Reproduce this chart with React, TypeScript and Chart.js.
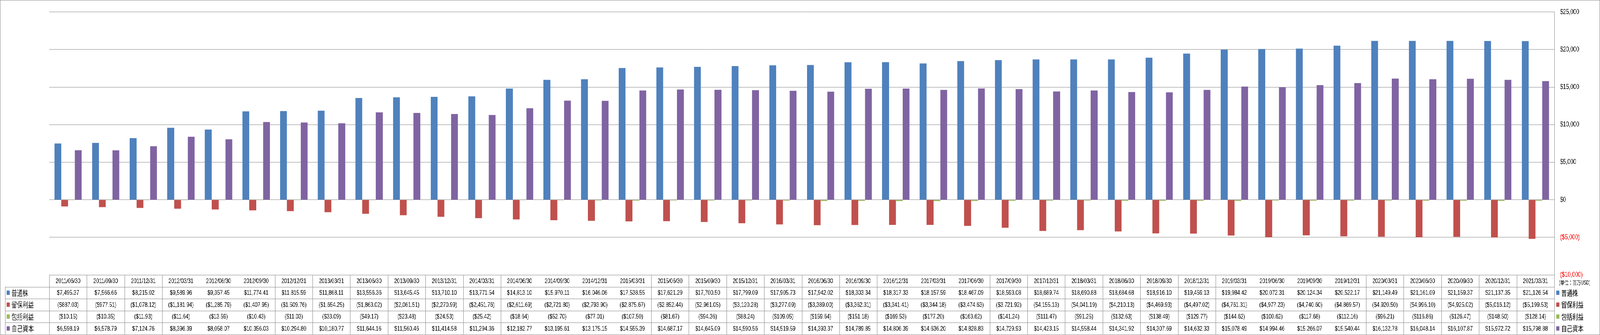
import React, { useEffect, useRef } from "react";
import { Chart, registerables } from "chart.js";

Chart.register(...registerables);

const categories = [
  "2011/06/30", "2011/09/30", "2011/12/31", "2012/03/31", "2012/06/30", "2012/09/30", "2012/12/31", "2013/03/31",
  "2013/06/30", "2013/09/30", "2013/12/31", "2014/03/31", "2014/06/30", "2014/09/30", "2014/12/31", "2015/03/31",
  "2015/06/30", "2015/09/30", "2015/12/31", "2016/03/31", "2016/06/30", "2016/09/30", "2016/12/31", "2017/03/31",
  "2017/06/30", "2017/09/30", "2017/12/31", "2018/03/31", "2018/06/30", "2018/09/30", "2018/12/31", "2019/03/31",
  "2019/06/30", "2019/09/30", "2019/12/31", "2020/03/31", "2020/06/30", "2020/09/30", "2020/12/31", "2021/03/31",
];

const commonStock = [
  7495.37, 7566.66, 8215.02, 9589.96, 9357.45, 11774.41, 11815.59, 11868.11, 13556.36, 13645.45,
  13710.1, 13771.54, 14813.1, 15970.11, 16046.06, 17538.55, 17621.29, 17700.5, 17799.09, 17905.73,
  17942.02, 18303.34, 18317.33, 18157.59, 18467.09, 18593.08, 18689.74, 18690.88, 18684.68, 18916.1,
  19459.13, 19984.42, 20072.31, 20124.34, 20522.17, 21149.49, 21161.09, 21159.37, 21137.35, 21126.54,
];

const retainedEarnings = [
  -887.03, -977.51, -1078.12, -1181.94, -1285.79, -1407.95, -1509.76, -1654.25, -1863.02, -2061.51,
  -2270.99, -2451.76, -2611.69, -2721.8, -2793.9, -2875.67, -2852.44, -2961.05, -3120.28, -3277.09,
  -3389.0, -3362.31, -3341.41, -3344.18, -3474.63, -3721.92, -4155.13, -4041.19, -4210.13, -4469.93,
  -4497.02, -4761.31, -4977.23, -4740.6, -4869.57, -4920.5, -4996.1, -4925.02, -5016.12, -5199.53,
];

const comprehensiveIncome = [
  -10.15, -10.35, -11.93, -11.64, -13.59, -10.43, -11.03, -33.09, -49.17, -23.48,
  -24.53, -25.42, -18.64, -52.7, -77.01, -107.5, -81.67, -94.36, -88.24, -109.05,
  -159.64, -151.18, -169.53, -177.2, -163.62, -141.24, -111.47, -91.25, -132.63, -138.49,
  -129.77, -144.62, -100.62, -117.68, -112.16, -96.21, -116.86, -126.47, -148.5, -128.14,
];

const equity = [
  6598.19, 6578.79, 7124.76, 8396.39, 8058.07, 10356.03, 10294.8, 10180.77, 11644.16, 11560.46,
  11414.58, 11294.36, 12182.77, 13195.61, 13175.15, 14555.39, 14687.17, 14645.09, 14590.56, 14519.59,
  14393.37, 14789.85, 14806.39, 14636.2, 14828.83, 14729.93, 14423.15, 14558.44, 14341.92, 14307.69,
  14632.33, 15078.49, 14994.46, 15266.07, 15540.44, 16132.78, 16048.14, 16107.87, 15972.72, 15798.88,
];

const seriesNames = ["普通株", "留保利益", "包括利益", "自己資本"];
const seriesColors = ["#4f81bd", "#c0504d", "#9bbb59", "#8064a2"];
const seriesValues = [commonStock, retainedEarnings, comprehensiveIncome, equity];

const yMin = -10000;
const yMax = 25000;
const yStep = 5000;
const unitLabel = "(単位：百万USD)";

const W = 5461;
const H = 858;
const LINE = "#868686";
const CJK = '"Noto Sans CJK JP", "Noto Sans", sans-serif';
const NUM = '"Liberation Sans", Arial, sans-serif';

function money(v: number, digits: number): string {
  const s = Math.abs(v).toLocaleString("en-US", {
    minimumFractionDigits: digits,
    maximumFractionDigits: digits,
  });
  return v < 0 ? `($${s})` : `$${s}`;
}

const tablePlugin = {
  id: "dataTable",
  afterDraw(chart: any) {
    const ctx: CanvasRenderingContext2D = chart.ctx;
    const area = chart.chartArea;
    const xs = chart.scales.x;
    const n = categories.length;
    const colW = (area.right - area.left) / n;
    const top = area.bottom;
    const rowH = 30.5;
    const legendLeft = 17;
    const bottom = top + rowH * 5;

    ctx.save();
    ctx.strokeStyle = LINE;
    ctx.lineWidth = 1;
    const line = (x0: number, y0: number, x1: number, y1: number) => {
      ctx.beginPath();
      ctx.moveTo(x0, y0);
      ctx.lineTo(x1, y1);
      ctx.stroke();
    };
    for (let r = 0; r <= 5; r++) {
      const y = Math.round(top + r * rowH) + 0.5;
      line(r === 0 ? area.left : legendLeft, y, area.right, y);
    }
    for (let c = 0; c <= n; c++) {
      const xx = Math.round(area.left + c * colW) + 0.5;
      line(xx, top, xx, bottom);
    }
    line(legendLeft + 0.5, top + rowH, legendLeft + 0.5, bottom);

    // outer chart border
    ctx.strokeRect(0.5, 0.5, W - 1, H - 1);

    ctx.textAlign = "center";
    ctx.textBaseline = "middle";
    ctx.fillStyle = "#000";
    ctx.font = `17px ${NUM}`;
    for (let i = 0; i < n; i++) {
      const cx = xs.getPixelForValue(i);
      ctx.fillText(categories[i], cx, top + rowH * 0.5 + 1);
      for (let s = 0; s < seriesValues.length; s++) {
        ctx.fillText(money(seriesValues[s][i], 2), cx, top + rowH * (s + 1.5) + 1);
      }
    }

    // row headers in table
    ctx.textAlign = "left";
    for (let s = 0; s < seriesNames.length; s++) {
      const cy = top + rowH * (s + 1.5);
      ctx.fillStyle = seriesColors[s];
      ctx.fillRect(22, cy - 5.5, 11, 11);
      ctx.fillStyle = "#000";
      ctx.font = `19px ${CJK}`;
      ctx.fillText(seriesNames[s], 39, cy + 1);
    }

    // right legend
    for (let s = 0; s < seriesNames.length; s++) {
      const cy = top + rowH * (s + 1.5);
      ctx.fillStyle = seriesColors[s];
      ctx.fillRect(area.right + 7, cy - 5.5, 11, 11);
      ctx.fillStyle = "#000";
      ctx.font = `19px ${CJK}`;
      ctx.fillText(seriesNames[s], area.right + 24, cy + 1);
    }

    ctx.font = `14px ${CJK}`;
    ctx.fillStyle = "#000";
    ctx.fillText(unitLabel, area.right + 16, top + 20);
    ctx.restore();
  },
};

export default function App() {
  const ref = useRef<HTMLCanvasElement | null>(null);
  const outer = useRef<HTMLDivElement | null>(null);
  const inner = useRef<HTMLDivElement | null>(null);

  useEffect(() => {
    document.documentElement.style.overflow = "hidden";
    document.body.style.margin = "0";
    document.body.style.overflow = "hidden";
    const canvas = ref.current;
    const o = outer.current;
    const b = inner.current;
    if (!canvas || !o || !b) return;
    const vw = window.innerWidth || W;
    const vh = window.innerHeight || H;
    const kx = vw / W;
    const ky = vh / H;
    const dpr = window.devicePixelRatio || 1;
    o.style.width = `${W * kx}px`;
    o.style.height = `${H * ky}px`;
    if (Math.abs(kx - 1) > 0.005 || Math.abs(ky - 1) > 0.005) {
      b.style.transform = `scale(${kx}, ${ky})`;
      b.style.transformOrigin = "0 0";
    }
    const chart = new Chart(canvas, {
      type: "bar",
      data: {
        labels: categories,
        datasets: seriesNames.map((name, i) => ({
          label: name,
          data: seriesValues[i],
          backgroundColor: seriesColors[i],
          borderWidth: 0,
          categoryPercentage: 0.727,
          barPercentage: 1.0,
        })),
      },
      options: {
        animation: false,
        responsive: false,
        maintainAspectRatio: false,
        devicePixelRatio: Math.max(1, dpr * kx),
        layout: { padding: { left: 168, top: 13, bottom: 154, right: 0 } },
        plugins: {
          legend: { display: false },
          tooltip: { enabled: false },
        },
        scales: {
          x: {
            display: false,
          },
          y: {
            position: "right",
            min: yMin,
            max: yMax,
            afterFit(scale: any) {
              scale.width = 156;
            },
            grid: {
              color: LINE,
              lineWidth: 1,
              drawTicks: false,
            },
            border: { display: true, color: LINE },
            ticks: {
              stepSize: yStep,
              padding: 20,
              font: { family: NUM, size: 18 },
              color: (c: any) => (c.tick && c.tick.value < 0 ? "#ff0000" : "#000000"),
              callback: (v: any) => money(Number(v), 0),
            },
          },
        },
      },
      plugins: [tablePlugin],
    });
    return () => chart.destroy();
  }, []);

  return (
    <div
      ref={outer}
      style={{ position: "absolute", left: 0, top: 0, width: W, height: H, overflow: "hidden", background: "#fff" }}
    >
      <div ref={inner} style={{ width: W, height: H, background: "#fff" }}>
        <canvas ref={ref} width={W} height={H} style={{ display: "block", width: `${W}px`, height: `${H}px` }} />
      </div>
    </div>
  );
}
